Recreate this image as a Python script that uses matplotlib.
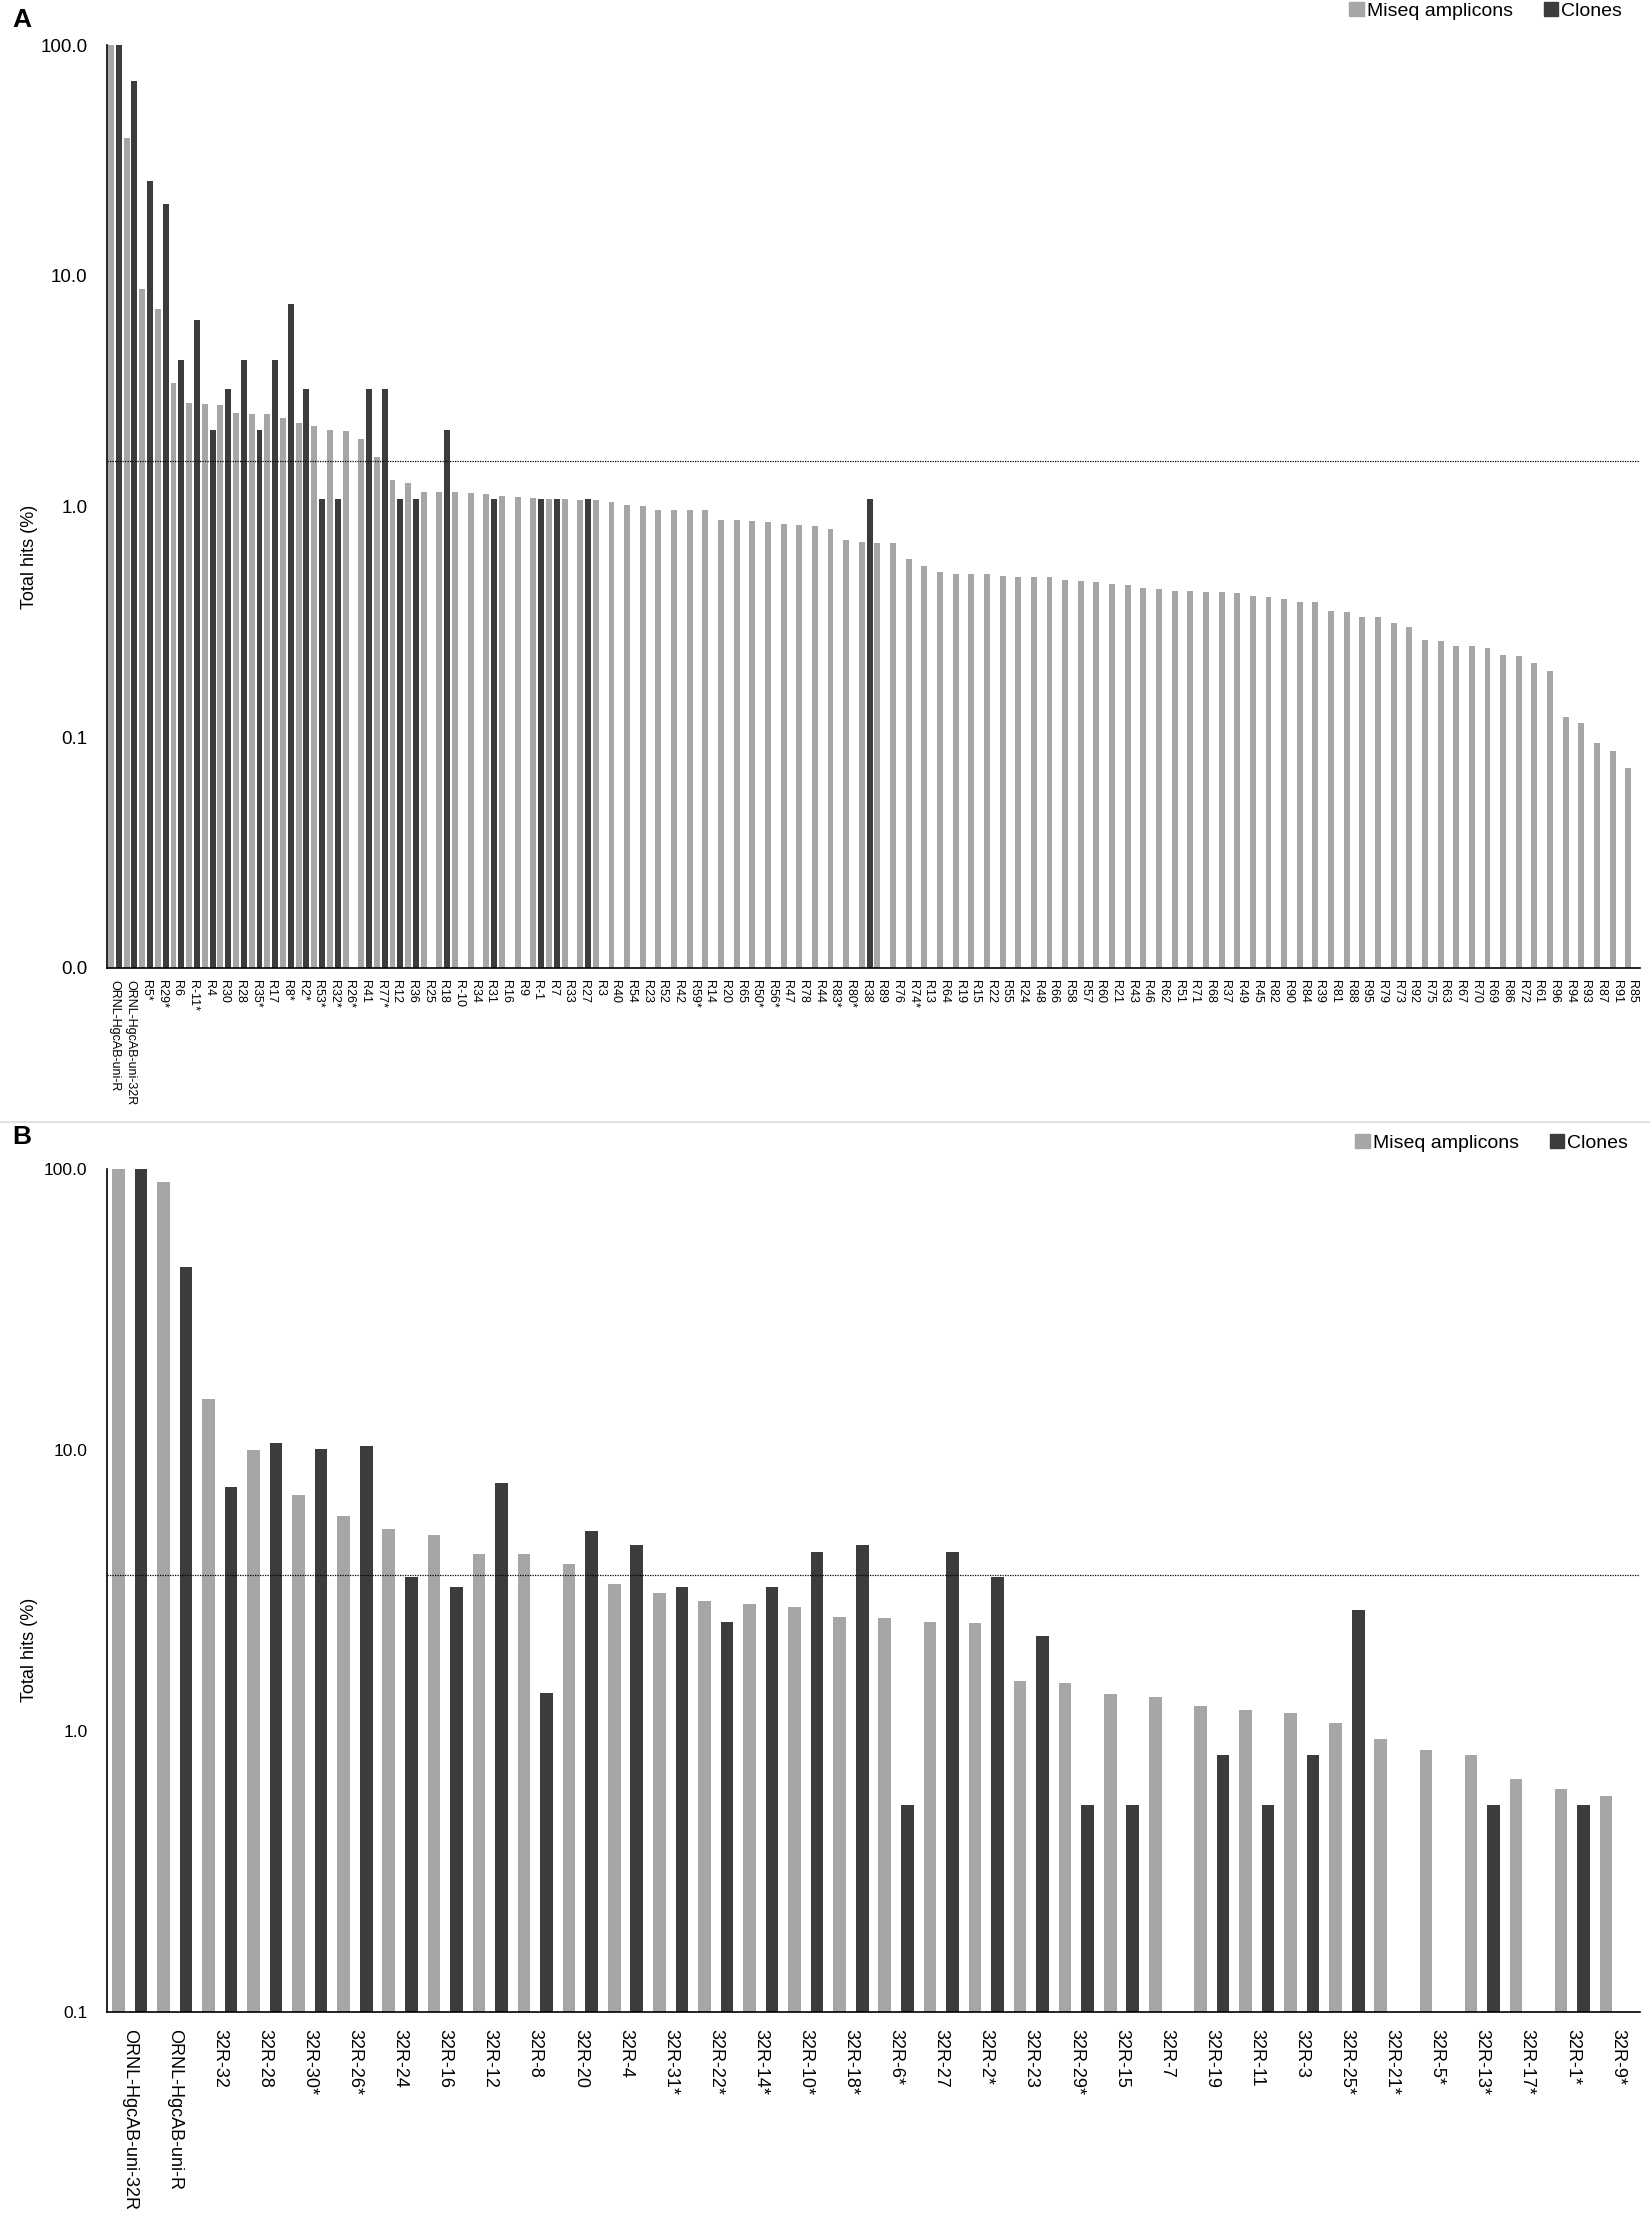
import numpy as np
import matplotlib
matplotlib.use('Agg')
from matplotlib import pyplot as plt
from matplotlib.patches import Patch
from matplotlib.lines import Line2D
from matplotlib.ticker import NullLocator, FixedLocator, FixedFormatter

plt.rcParams['font.family'] = ['Liberation Sans', 'DejaVu Sans']

GRIS = '#a6a6a6'
OSCURO = '#3c3c3c'
nan = np.nan

# Panel A (primer uni-R)
etiquetas_a = ['ORNL-HgcAB-uni-R', 'ORNL-HgcAB-uni-32R', 'R5*', 'R29*', 'R6', 'R-11*', 'R4', 'R30',
               'R28', 'R35*', 'R17', 'R8*', 'R2*', 'R53*', 'R32*', 'R26*', 'R41', 'R77*', 'R12',
               'R36', 'R25', 'R18', 'R-10', 'R34', 'R31', 'R16', 'R9', 'R-1', 'R7', 'R33', 'R27',
               'R3', 'R40', 'R54', 'R23', 'R52', 'R42', 'R59*', 'R14', 'R20', 'R65', 'R50*', 'R56*',
               'R47', 'R78', 'R44', 'R83*', 'R80*', 'R38', 'R89', 'R76', 'R74*', 'R13', 'R64',
               'R19', 'R15', 'R22', 'R55', 'R24', 'R48', 'R66', 'R58', 'R57', 'R60', 'R21', 'R43',
               'R46', 'R62', 'R51', 'R71', 'R68', 'R37', 'R49', 'R45', 'R82', 'R90', 'R84', 'R39',
               'R81', 'R88', 'R95', 'R79', 'R73', 'R92', 'R75', 'R63', 'R67', 'R70', 'R69', 'R86',
               'R72', 'R61', 'R96', 'R94', 'R93', 'R87', 'R91', 'R85']
miseq_a = [100, 39.5, 8.8, 7.15, 3.42, 2.81, 2.78, 2.75, 2.55, 2.52, 2.52, 2.41, 2.29, 2.23, 2.15,
           2.12, 1.97, 1.64, 1.30, 1.27, 1.16, 1.16, 1.16, 1.145, 1.13, 1.114, 1.10, 1.088, 1.075,
           1.075, 1.065, 1.065, 1.05, 1.017, 1.004, 0.962, 0.962, 0.962, 0.962, 0.875, 0.875,
           0.867, 0.853, 0.843, 0.831, 0.822, 0.801, 0.713, 0.704, 0.694, 0.694, 0.594, 0.552,
           0.520, 0.509, 0.509, 0.509, 0.502, 0.496, 0.496, 0.496, 0.482, 0.477, 0.471, 0.460,
           0.455, 0.442, 0.438, 0.432, 0.432, 0.426, 0.426, 0.421, 0.411, 0.407, 0.396, 0.387,
           0.387, 0.354, 0.350, 0.331, 0.331, 0.314, 0.300, 0.263, 0.260, 0.249, 0.249, 0.243,
           0.227, 0.224, 0.210, 0.194, 0.122, 0.115, 0.0947, 0.0868, 0.0734]
clones_a = [100, 69.9, 25.8, 20.4, 4.30, 6.45, 2.15, 3.23, 4.30, 2.15, 4.30, 7.53, 3.23, 1.075,
            1.075, nan, 3.23, 3.23, 1.075, 1.075, nan, 2.15, nan, nan, 1.075, nan, nan, 1.075,
            1.075, nan, 1.075] + [nan] * 17 + [1.075] + [nan] * 49
umbral_a = 1.57

# Panel B (primer uni-32R)
etiquetas_b = ['ORNL-HgcAB-uni-32R', 'ORNL-HgcAB-uni-R', '32R-32', '32R-28', '32R-30*', '32R-26*',
               '32R-24', '32R-16', '32R-12', '32R-8', '32R-20', '32R-4', '32R-31*', '32R-22*',
               '32R-14*', '32R-10*', '32R-18*', '32R-6*', '32R-27', '32R-2*', '32R-23', '32R-29*',
               '32R-15', '32R-7', '32R-19', '32R-11', '32R-3', '32R-25*', '32R-21*', '32R-5*',
               '32R-13*', '32R-17*', '32R-1*', '32R-9*']
miseq_b = [100, 89.6, 15.2, 10.0, 6.90, 5.81, 5.25, 4.99, 4.26, 4.26, 3.93, 3.34, 3.11, 2.90,
           2.84, 2.76, 2.55, 2.53, 2.45, 2.42, 1.51, 1.48, 1.35, 1.32, 1.23, 1.19, 1.16, 1.07,
           0.94, 0.858, 0.82, 0.673, 0.622, 0.589]
clones_b = [100, 44.7, 7.36, 10.6, 10.1, 10.35, 3.54, 3.26, 7.64, 1.36, 5.15, 4.61, 3.26, 2.45,
            3.26, 4.35, 4.61, 0.544, 4.35, 3.54, 2.18, 0.544, 0.544, nan, 0.82, 0.544, 0.82, 2.70,
            nan, nan, 0.544, nan, 0.544, nan]
umbral_b = 3.59

W, H = 1650, 2226


def dibujar(rect, etiquetas, miseq, clones, umbral, yticks, ytxt, ancho, sep, fs_x, pad_x, fs_tick, ylab_pos):
    ax = fig.add_axes(rect)
    ax.set_yscale('log')
    x = np.arange(len(etiquetas))
    ax.bar(x - sep, miseq, ancho, color=GRIS, linewidth=0)
    ax.bar(x + sep, clones, ancho, color=OSCURO, linewidth=0)
    ax.axhline(umbral, color='black', lw=0.9, ls=(0, (1, 1)))
    ax.set_ylim(yticks[0], yticks[-1])
    ax.set_xlim(-0.5, len(etiquetas) - 0.5)
    ax.yaxis.set_major_locator(FixedLocator(yticks))
    ax.yaxis.set_major_formatter(FixedFormatter(ytxt))
    ax.yaxis.set_minor_locator(NullLocator())
    ax.set_xticks(x)
    ax.set_xticklabels(etiquetas, rotation=-90, fontsize=fs_x, ha='center', va='top')
    ax.tick_params(axis='x', length=0, pad=pad_x)
    ax.tick_params(axis='y', length=0, pad=14, labelsize=fs_tick)
    for s in ['top', 'right']:
        ax.spines[s].set_visible(False)
    for s in ['left', 'bottom']:
        ax.spines[s].set_color('black')
        ax.spines[s].set_linewidth(1.2)
    ax.set_ylabel('Total hits (%)', fontsize=13)
    ax.yaxis.set_label_coords(*ylab_pos)
    return ax


fig = plt.figure(figsize=(W / 100, H / 100), dpi=100)

izq = 107 / W
anch = (1640 - 107) / W

# A: eje de 45 px (100) a 968 px (0.01)
dibujar([izq, 1 - 968 / H, anch, (968 - 45) / H], etiquetas_a, miseq_a, clones_a, umbral_a,
        [0.01, 0.1, 1, 10, 100], ['0.0', '0.1', '1.0', '10.0', '100.0'],
        0.38, 0.25, 9, 9, 13.5, (-0.045, 0.445))

# B: eje de 1169 px (100) a 2012 px (0.1)
dibujar([izq, 1 - 2012 / H, anch, (2012 - 1169) / H], etiquetas_b, miseq_b, clones_b, umbral_b,
        [0.1, 1, 10, 100], ['0.1', '1.0', '10.0', '100.0'],
        0.28, 0.25, 13, 12, 12.5, (-0.045, 0.43))

# leyendas
manejadores = [Patch(color=GRIS, label='Miseq amplicons'), Patch(color=OSCURO, label='Clones')]
for xder, ytop in [(1622, 2), (1628, 1134)]:
    fig.legend(handles=manejadores, loc='upper right', bbox_to_anchor=(xder / W, 1 - ytop / H),
               ncol=2, frameon=False, fontsize=14, handlelength=0.75, handleheight=0.75,
               handletextpad=0.15, columnspacing=1.6, borderaxespad=0, borderpad=0)

# letras de panel
fig.text(12 / W, 1 - 20 / H, 'A', fontsize=19, weight='bold', va='center', ha='left')
fig.text(12 / W, 1 - 1137 / H, 'B', fontsize=19, weight='bold', va='center', ha='left')

# linea separadora entre paneles
fig.add_artist(Line2D([0, 1], [1 - 1122 / H] * 2, color='#dcdcdc', lw=1.2, transform=fig.transFigure))

fig.savefig('out.png', dpi=100)
